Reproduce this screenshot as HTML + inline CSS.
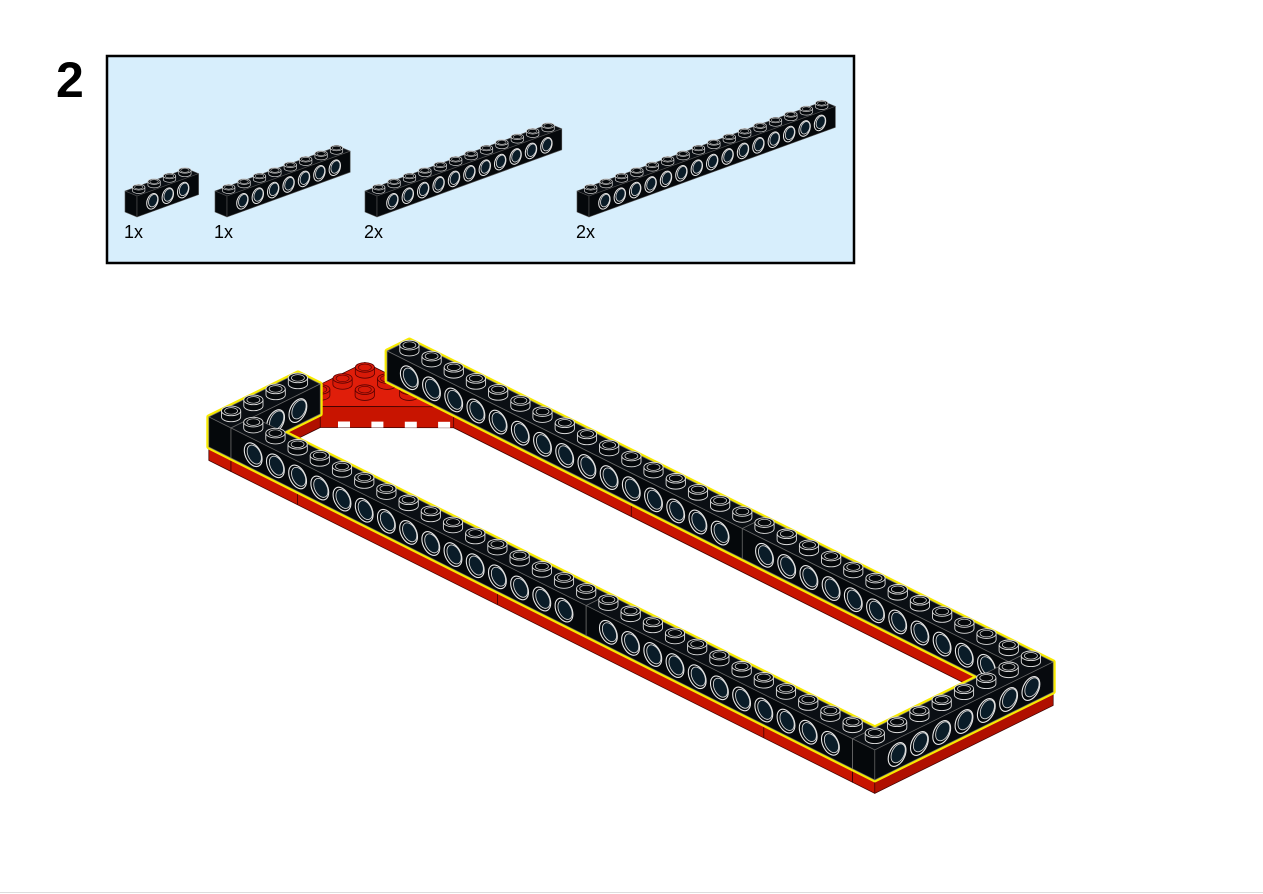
<!DOCTYPE html>
<html><head><meta charset="utf-8"><style>
html,body{margin:0;padding:0;background:#fff;width:1263px;height:894px;overflow:hidden}
svg{display:block}
</style></head><body>
<svg id="s" width="1263" height="894" viewBox="0 0 1263 894" xmlns="http://www.w3.org/2000/svg">
<rect x="0" y="0" width="1263" height="894" fill="#fff"/>
<line x1="0" y1="892.5" x2="1263" y2="892.5" stroke="#ddd" stroke-width="1"/>
<text x="56" y="97" font-family="Liberation Sans, sans-serif" font-weight="bold" font-size="50" fill="#000">2</text>
<rect x="107" y="56" width="747" height="207" fill="#d7eefc" stroke="#000" stroke-width="2.5"/>
<text x="124" y="238" font-family="Liberation Sans, sans-serif" font-size="18" fill="#000">1x</text>
<text x="214" y="238" font-family="Liberation Sans, sans-serif" font-size="18" fill="#000">1x</text>
<text x="364" y="238" font-family="Liberation Sans, sans-serif" font-size="18" fill="#000">2x</text>
<text x="576" y="238" font-family="Liberation Sans, sans-serif" font-size="18" fill="#000">2x</text>
<g id="g"></g>
</svg>
<script>
let out='';
function f(n){return (+n).toFixed(1);}
function pts(a){return a.map(p=>f(p[0])+','+f(p[1])).join(' ');}
function poly(a,fill,stroke,sw){out+='<polygon points="'+pts(a)+'" fill="'+fill+'" stroke="'+(stroke||'none')+'" stroke-width="'+(sw||0)+'" stroke-linejoin="round"/>';}
function box(P,i0,i1,j0,j1,z0,z1,top,front,side,edge,ew){
 poly([P(i0,j0,z1),P(i0,j1,z1),P(i1,j1,z1),P(i1,j0,z1)],top,edge,ew);
 poly([P(i0,j0,z1),P(i1,j0,z1),P(i1,j0,z0),P(i0,j0,z0)],front,edge,ew);
 poly([P(i1,j0,z1),P(i1,j1,z1),P(i1,j1,z0),P(i1,j0,z0)],side,edge,ew);
}
function sil(P,i0,i1,j0,j1,z0,z1){return [P(i0,j0,z1),P(i0,j1,z1),P(i1,j1,z1),P(i1,j1,z0),P(i1,j0,z0),P(i0,j0,z0)];}
function hole(c,ax,ay,bx,by,sc){
 out+='<g transform="matrix('+[ax,ay,bx,by,c[0],c[1]].map(f).join(',')+')"><circle r="1" fill="#02060a" stroke="#e8e8e8" stroke-width="'+sc+'" vector-effect="non-scaling-stroke"/><circle cx="0.12" cy="0.06" r="0.8" fill="#0a1c28" stroke="#d8d8d8" stroke-width="'+(sc*0.8)+'" vector-effect="non-scaling-stroke"/></g>';
}
function stud(c,rx,ry,h,fill,st,sw){
 const cx=c[0],cy=c[1];
 out+='<path d="M'+f(cx-rx)+','+f(cy-h)+' L'+f(cx-rx)+','+f(cy)+' A'+rx+','+ry+' 0 0 0 '+f(cx+rx)+','+f(cy)+' L'+f(cx+rx)+','+f(cy-h)+'" fill="'+fill+'" stroke="'+st+'" stroke-width="'+sw+'"/>';
 out+='<ellipse cx="'+f(cx)+'" cy="'+f(cy-h)+'" rx="'+rx+'" ry="'+ry+'" fill="'+fill+'" stroke="'+st+'" stroke-width="'+sw+'"/>';
 if(st!=='none') out+='<ellipse cx="'+f(cx)+'" cy="'+f(cy-h)+'" rx="'+f(rx*0.68)+'" ry="'+f(ry*0.68)+'" fill="none" stroke="'+st+'" stroke-width="'+(sw*0.8)+'"/>';
}
const L=[22.2,11.1], S=[22.3,-11], H=30;
function P(i,j,z){return [231+L[0]*i+S[0]*j, 458+L[1]*i+S[1]*j-H*z];}
const RT='#e01e0a', RF='#c81400', RS='#b01000', RE='#3a0000';
box(P,0,28,7,8,-0.45,0,RT,RF,RS,RE,0.7);
// wedge plate (slightly raised)
const WZ=0.25;
poly([P(-1,4,WZ),P(-1,7,WZ),P(3,7,WZ),P(0,4,WZ)],RT,RE,0.7);
poly([P(-1,4,WZ),P(0,4,WZ),P(0,4,-0.45),P(-1,4,-0.45)],RF,RE,0.7);
poly([P(0,4,WZ),P(3,7,WZ),P(3,7,-0.45),P(0,4,-0.45)],RF,RE,0.7);
for(let k=0;k<4;k++){const a=P(0.4+k*0.75,4.4+k*0.75,-0.45);out+='<rect x="'+f(a[0])+'" y="'+f(a[1]-6)+'" width="12" height="6" fill="#fff"/>';}
[[-1,4],[-1,5],[-1,6],[0,5],[0,6],[1,6]].forEach(c=>stud(P(c[0]+0.5,c[1]+0.5,WZ),9.6,4.8,6,'#d81a08','#500',0.8));
box(P,-1,0,0,4,-0.45,0,RT,RF,RS,RE,0.7);
box(P,0,28,0,1,-0.45,0,RT,RF,RS,RE,0.7);
box(P,28,29,0,8,-0.45,0,RT,RF,RS,RE,0.7);
[[3,0],[12,0],[24,0]].forEach(s=>{const a=P(s[0],0,0),b=P(s[0],0,-0.45);out+='<line x1="'+f(a[0])+'" y1="'+f(a[1])+'" x2="'+f(b[0])+'" y2="'+f(b[1])+'" stroke="#400" stroke-width="0.8"/>';});
[[11,7],[27,7]].forEach(s=>{const a=P(s[0],7,0),b=P(s[0],7,-0.45);out+='<line x1="'+f(a[0])+'" y1="'+f(a[1])+'" x2="'+f(b[0])+'" y2="'+f(b[1])+'" stroke="#400" stroke-width="0.8"/>';});
const beams=[[0,28,7,8],[-1,0,0,4],[0,28,0,1],[28,29,0,8]];
beams.forEach(b=>poly(sil(P,b[0],b[1],b[2],b[3],0,1),'#000','#f7ea00',5));
const BT='#0b0f14', BF='#05080b', BS='#070a0e', BE='#6a6a6a';
function beam(i0,i1,j0,j1,frontHoles,sideHoles){
 box(P,i0,i1,j0,j1,0,1,BT,BF,BS,BE,0.7);
 frontHoles.forEach(i=>hole(P(i,j0,0.48),L[0]*0.4,L[1]*0.4,0,-11,1.1));
 sideHoles.forEach(j=>hole(P(i1,j,0.48),S[0]*0.4,S[1]*0.4,0,-11,1.1));
}
function studs(i0,i1,j0,j1){for(let i=i0;i<i1;i++)for(let j=j0;j<j1;j++)stud(P(i+0.5,j+0.5,1),9.6,4.8,6,'#05080b','#dcdcdc',0.9);}
function rng(a,b){const r=[];for(let k=a;k<=b;k++)r.push(k);return r;}
beam(0,16,7,8,rng(1,15),[]); beam(16,28,7,8,rng(17,27),[]);
studs(0,28,7,8);
beam(-1,0,0,4,[],[1,2,3]); studs(-1,0,0,4);
beam(0,16,0,1,rng(1,15),[]); beam(16,28,0,1,rng(17,27),[]);
studs(0,28,0,1);
beam(28,29,0,8,[],rng(1,7)); studs(28,29,0,8);
function part(x0,n){
 const Q=(i,j,z)=>[x0+12*i+15.4*j, 212+5*i-5.6*j-21*z];
 box(Q,0,1,0,n,0,1,'#0b0f14','#05080b','#05080b','#555',0.6);
 for(let j=1;j<n;j++)hole(Q(1,j,0.48),15.4*0.37,-5.6*0.37,0,-7.5,1);
 for(let j=0;j<n;j++)stud(Q(0.5,j+0.5,1),6.2,2.8,3.5,'#05080b','#cfcfcf',0.7);
}
part(125,4); part(215,8); part(365,12); part(577,16);
document.getElementById('g').innerHTML=out;
</script>
</body></html>
